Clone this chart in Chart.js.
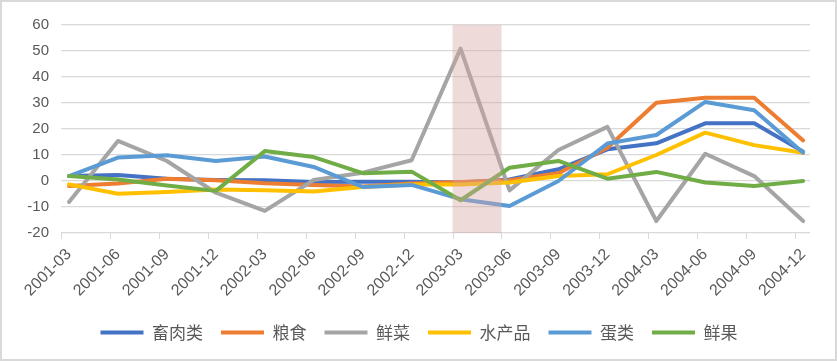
<!DOCTYPE html>
<html>
<head>
<meta charset="utf-8">
<script src="https://cdn.jsdelivr.net/npm/chart.js@4"></script>
<style>
  html, body { margin: 0; padding: 0; background: #fff; }
  #wrap { width: 833px; height: 357px; border: 2px solid #d9d9d9; }
</style>
</head>
<body>
<div id="wrap"><canvas id="chart" width="833" height="357"></canvas></div>
<script>
// quarterly categories
const categories = ['2001-03', '2001-06', '2001-09', '2001-12', '2002-03', '2002-06', '2002-09', '2002-12',
    '2003-03', '2003-06', '2003-09', '2003-12', '2004-03', '2004-06', '2004-09', '2004-12'];

const seriesNames = ['畜肉类', '粮食', '鲜菜', '水产品', '蛋类', '鲜果'];
const meat = [1.9, 2.3, 0.9, 0.4, 0.3, -0.4, -0.3, -0.3, -0.6, 0.6, 4.5, 12.2, 14.5, 22.2, 22.2, 11.3];
const grain = [-1.9, -1.0, 0.9, 0.3, -0.9, -1.5, -2.1, -1.0, -0.4, 0.3, 3.0, 12.8, 30.1, 32.0, 32.0, 15.6];
const vegetables = [-8.1, 15.4, 7.7, -4.5, -11.5, 0.4, 3.2, 8.0, 50.9, -3.6, 11.9, 20.8, -15.4, 10.5, 1.9, -15.4];
const aquatic = [-1.3, -4.9, -4.2, -3.3, -3.6, -4.0, -2.3, -1.3, -1.3, -0.6, 1.9, 2.6, 10.0, 18.6, 13.8, 10.9];
const eggs = [1.9, 9.0, 9.9, 7.7, 9.4, 5.4, -2.3, -1.5, -7.0, -9.6, 0.0, 14.4, 17.7, 30.4, 27.2, 10.9];
const fruit = [1.9, 0.6, -1.7, -3.8, 11.5, 9.2, 3.0, 3.6, -7.4, 5.1, 7.7, 0.9, 3.5, -0.6, -1.9, 0.0];

const yTicks = [-20, -10, 0, 10, 20, 30, 40, 50, 60];
const shadedPeriod = ['2003-03', '2003-06'];

const colors = ['#4472C4', '#ED7D31', '#A5A5A5', '#FFC000', '#5B9BD5', '#70AD47'];
const allSeries = [meat, grain, vegetables, aquatic, eggs, fruit];

// tick marks sit a little left of the points in the original
const tickShift = 0.164;

const datasets = allSeries.map((vals, i) => ({
    label: seriesNames[i],
    data: vals.map((v, j) => ({ x: j, y: v })),
    borderColor: colors[i],
    backgroundColor: colors[i],
    borderWidth: 4,
    borderCapStyle: 'round',
    borderJoinStyle: 'round',
    pointRadius: 0,
    tension: 0,
    order: allSeries.length - i
}));

const bandPlugin = {
    id: 'band',
    afterLayout(chart) {
        // legend is centred on the whole canvas, not the padded area
        chart.legend.left += 13;
        chart.legend.right += 13;
    },
    afterDatasetsDraw(chart) {
        const { ctx, chartArea, scales } = chart;
        const x = scales.x;
        const a = x.getPixelForValue(categories.indexOf(shadedPeriod[0]) - tickShift);
        const b = x.getPixelForValue(categories.indexOf(shadedPeriod[1]) - tickShift);
        ctx.save();
        ctx.fillStyle = 'rgba(215, 162, 162, 0.4)';
        ctx.fillRect(a, chartArea.top, b - a, chartArea.bottom - chartArea.top);

        // x axis tick marks
        ctx.strokeStyle = '#d9d9d9';
        ctx.lineWidth = 1;
        ctx.beginPath();
        categories.forEach((c, i) => {
            const px = Math.round(x.getPixelForValue(i - tickShift)) + 0.5;
            ctx.moveTo(px, chartArea.bottom);
            ctx.lineTo(px, chartArea.bottom + 6);
        });
        ctx.stroke();
        ctx.restore();
    }
};

new Chart(document.getElementById('chart'), {
    type: 'line',
    data: { datasets },
    options: {
        responsive: false,
        animation: false,
        layout: { padding: { top: 23, right: 25, left: 0, bottom: 8 } },
        plugins: {
            tooltip: { enabled: false },
            legend: {
                position: 'bottom',
                labels: {
                    usePointStyle: true,
                    pointStyle: 'line',
                    pointStyleWidth: 43,
                    padding: 18,
                    color: '#595959',
                    font: { family: '"Noto Sans CJK SC"', size: 17 },
                    sort: (a, b) => a.datasetIndex - b.datasetIndex
                }
            }
        },
        scales: {
            x: {
                type: 'linear',
                min: -tickShift,
                max: 15.14,
                afterBuildTicks: (axis) => { axis.ticks = categories.map((c, i) => ({ value: i })); },
                afterFit: (axis) => { axis.height = 73; },
                grid: { display: false },
                border: { display: false },
                ticks: {
                    autoSkip: false,
                    maxRotation: 45,
                    minRotation: 45,
                    padding: 4,
                    color: '#595959',
                    font: { family: '"Liberation Sans", Arial, sans-serif', size: 16 },
                    callback: (v) => categories[v]
                }
            },
            y: {
                min: yTicks[0],
                max: yTicks[yTicks.length - 1],
                afterBuildTicks: (axis) => { axis.ticks = yTicks.map(v => ({ value: v })); },
                afterFit: (axis) => { axis.width = 59; },
                grid: { color: '#d9d9d9', lineWidth: 1.3, drawTicks: false },
                border: { display: false },
                ticks: {
                    padding: 12,
                    color: '#595959',
                    font: { family: '"Liberation Sans", Arial, sans-serif', size: 15 }
                }
            }
        }
    },
    plugins: [bandPlugin]
});
</script>
</body>
</html>
